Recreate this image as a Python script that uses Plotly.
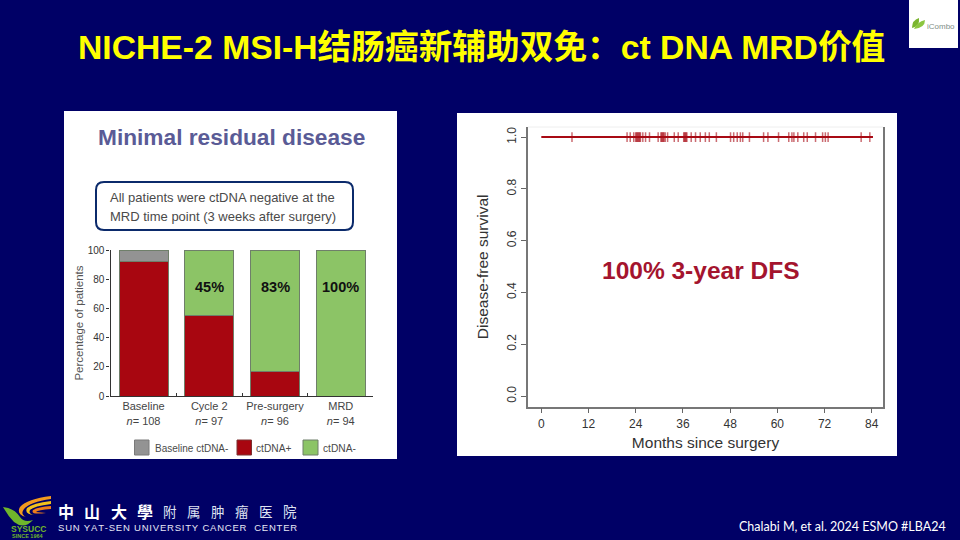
import plotly.graph_objects as go

W, H = 960, 540

# ---- data: bar chart ----
bar_categories = ["Baseline", "Cycle 2", "Pre-surgery", "MRD"]
bar_tick_labels = ["Baseline<br><i>n</i>= 108", "Cycle 2<br><i>n</i>= 97",
                   "Pre-surgery<br><i>n</i>= 96", "MRD<br><i>n</i>= 94"]
ctdna_pos = [92, 55, 17, None]
ctdna_neg = [None, 45, 83, 100]
baseline_neg = [8, None, None, None]
bar_pct_labels = ["", "45%", "83%", "100%"]
bar_y_ticks = [0, 20, 40, 60, 80, 100]

# ---- data: survival chart ----
km_months = [0, 84.3]
km_survival = [1.0, 1.0]
censor_months = [7.8, 21.8, 22.6, 23.5, 24.0, 24.2, 24.4, 24.6, 24.8, 25.0, 25.2, 25.8, 26.5, 27.5,
                 29.7, 30.4, 30.6, 30.8, 31.0, 31.2, 31.5, 32.1, 33.8, 34.8, 36.2, 36.4, 36.6, 36.8, 37.0,
                 38.1, 39.2, 40.4, 41.7, 42.7, 44.5, 48.1, 48.9, 49.8, 50.6, 51.2, 52.9,
                 56.5, 57.6, 60.3, 62.9, 63.7, 64.2, 65.2, 66.7, 67.6, 69.7, 71.5, 72.2,
                 72.9, 81.3, 83.5]
km_x_ticks = [0, 12, 24, 36, 48, 60, 72, 84]
km_y_ticks = [0.0, 0.2, 0.4, 0.6, 0.8, 1.0]

NAVY = "#000066"
SANS = "Liberation Sans, Arial, sans-serif"
CJK = "Liberation Sans, Noto Sans CJK SC, sans-serif"


def fx(p):
    return p / W


def fy(p):
    return 1 - p / H


def rect(x0, y0, x1, y1, fill, line=None, lw=0, layer="below"):
    return dict(type="rect", xref="paper", yref="paper", x0=fx(x0), x1=fx(x1),
                y0=fy(y1), y1=fy(y0), fillcolor=fill, layer=layer,
                line=dict(color=line or fill, width=lw))


def path(cmds, fill="rgba(0,0,0,0)", line=None, lw=0, layer="above"):
    parts = []
    for c in cmds:
        if len(c) == 1:
            parts.append(c[0])
        else:
            nums = []
            for i in range(1, len(c), 2):
                nums.append(f"{fx(c[i]):.5f},{fy(c[i + 1]):.5f}")
            parts.append(c[0] + " ".join(nums))
    return dict(type="path", xref="paper", yref="paper", path=" ".join(parts),
                fillcolor=fill, layer=layer, line=dict(color=line or fill, width=lw))


def text(x, y, s, size, color, family=SANS, anchor="center", angle=0):
    return dict(x=fx(x), y=fy(y), xref="paper", yref="paper", text=s, showarrow=False,
                xanchor=anchor, yanchor="middle", align="left", textangle=angle, borderpad=0, borderwidth=0,
                font=dict(size=size, color=color, family=family))


fig = go.Figure()

# bars
bar_line = dict(color="#6f7f6a", width=1)
fig.add_bar(x=bar_categories, y=ctdna_pos, name="ctDNA+", marker=dict(color="#a80610", line=bar_line),
            xaxis="x", yaxis="y", showlegend=False)
fig.add_bar(x=bar_categories, y=ctdna_neg, name="ctDNA-", marker=dict(color="#8cc466", line=bar_line),
            xaxis="x", yaxis="y", showlegend=False)
fig.add_bar(x=bar_categories, y=baseline_neg, name="Baseline ctDNA-", marker=dict(color="#939393", line=bar_line),
            xaxis="x", yaxis="y", showlegend=False)

# survival
fig.add_scatter(x=km_months, y=km_survival, mode="lines", line=dict(color="#a80a14", width=2),
                xaxis="x2", yaxis="y2", showlegend=False)
fig.add_scatter(x=censor_months, y=[1.0] * len(censor_months), mode="markers",
                marker=dict(symbol="line-ns", size=7, color="rgba(168,10,20,0.6)",
                            line=dict(color="rgba(168,10,20,0.6)", width=1.5)),
                xaxis="x2", yaxis="y2", showlegend=False)

shapes = [
    rect(64, 111, 397, 459, "white"),
    rect(457, 113, 897, 456, "white"),
    rect(909, 0, 958, 48, "white"),
    # callout box
    dict(type="path", xref="paper", yref="paper", layer="below", fillcolor="white",
         line=dict(color="#0b2a6b", width=2),
         path=" ".join([
             f"M{fx(104):.5f},{fy(182):.5f}", f"L{fx(345):.5f},{fy(182):.5f}",
             f"Q{fx(353):.5f},{fy(182):.5f} {fx(353):.5f},{fy(190):.5f}",
             f"L{fx(353):.5f},{fy(222):.5f}",
             f"Q{fx(353):.5f},{fy(230):.5f} {fx(345):.5f},{fy(230):.5f}",
             f"L{fx(104):.5f},{fy(230):.5f}",
             f"Q{fx(96):.5f},{fy(230):.5f} {fx(96):.5f},{fy(222):.5f}",
             f"L{fx(96):.5f},{fy(190):.5f}",
             f"Q{fx(96):.5f},{fy(182):.5f} {fx(104):.5f},{fy(182):.5f} Z"])),
    # legend swatches
    rect(134.5, 440, 149, 455, "#939393", "#7a7a7a", 1),
    rect(237, 440, 251.5, 455, "#a80610", "#7a3030", 1),
    rect(303, 440, 318, 455, "#8cc466", "#6f7f6a", 1),
    # faint top edge of survival frame
    dict(type="line", xref="paper", yref="paper", x0=fx(528), x1=fx(883), y0=fy(127), y1=fy(127),
         line=dict(color="#eeeeee", width=1), layer="below"),
    # iCombo leaf
    path([["M", 912, 28], ["Q", 912, 20, 919, 18], ["Q", 920, 26, 912, 28], ["Z"]], "#7ab52e"),
    path([["M", 914, 29], ["Q", 917, 22, 925, 20], ["Q", 925, 28, 914, 29], ["Z"]], "#8cc63f"),
    # SYSUCC swoosh
    path([["M", 3, 507], ["Q", 14, 508, 20, 517], ["Q", 24, 523, 33, 520],
          ["Q", 24, 530, 14, 522], ["Q", 8, 516, 3, 507], ["Z"]], "#6fb52c"),
    path([["M", 51, 496], ["L", 51, 499], ["Q", 30, 502, 24, 509], ["Q", 20, 514, 26, 517],
          ["Q", 16, 514, 20, 507], ["Q", 27, 499, 51, 496], ["Z"]], "#f39a1e"),
    path([["M", 51, 501], ["L", 51, 504], ["Q", 34, 506, 30, 510], ["Q", 28, 514, 34, 515],
          ["Q", 24, 514, 27, 508], ["Q", 33, 503, 51, 501], ["Z"]], "#f2c21b"),
    path([["M", 51, 506], ["L", 51, 509], ["Q", 38, 510, 36, 512], ["L", 46, 513],
          ["Q", 30, 515, 33, 510], ["Q", 38, 507, 51, 506], ["Z"]], "#ee7d1a"),
]

annotations = [
    text(481.5, 47, "<b>NICHE-2 MSI-H结肠癌新辅助双免：ct DNA MRD价值</b>", 33.7, "#ffff00", CJK),
    text(231.5, 137, "<b>Minimal residual disease</b>", 22.7, "#5a5b96"),
    text(110, 197, "All patients were ctDNA negative at the", 13, "#4a4a4a", anchor="left"),
    text(110, 216, "MRD time point (3 weeks after surgery)", 13, "#4a4a4a", anchor="left"),
    text(155, 448, "Baseline ctDNA-", 10, "#4a4a4a", anchor="left"),
    text(256, 448, "ctDNA+", 10.2, "#4a4a4a", anchor="left"),
    text(323, 448, "ctDNA-", 10.2, "#4a4a4a", anchor="left"),
    text(700, 270, "<b>100% 3-year DFS</b>", 24.5, "#a4142e"),
    text(739, 526, "Chalabi M, et al. 2024 ESMO #LBA24", 12.5, "#ffffff", "Lato, sans-serif", "left"),
    text(58, 527, "\u200a".join("SUN YAT-SEN UNIVERSITY CANCER  CENTER"), 9.5, "#e8e8f5", SANS, "left"),
    text(28, 529, "<b>SYSUCC</b>", 8.5, "#6fb52c", SANS),
    text(28, 536, "<b>SINCE 1964</b>", 5.5, "#6fb52c", SANS),
    text(941, 26, "iCombo", 8, "#7f8f86", SANS),
]
# the hospital name is evenly spaced, one glyph at a time
for i, ch in enumerate("中山大學"):
    annotations.append(text(66 + 26.4 * i, 511, f"<b>{ch}</b>", 16, "#ffffff", "Noto Sans CJK TC"))
for i, ch in enumerate("附属肿瘤医院"):
    annotations.append(text(170 + 24 * i, 511, ch, 13.5, "#dfe3f2", "Noto Sans CJK SC"))
for cat, label in zip(bar_categories, bar_pct_labels):
    if label:
        annotations.append(dict(x=cat, y=74.5, xref="x", yref="y", text=f"<b>{label}</b>", showarrow=False,
                                font=dict(size=14.5, color="#111111", family=SANS)))

fig.update_layout(
    width=W, height=H, margin=dict(l=0, r=0, t=0, b=0, autoexpand=False), autosize=False,
    paper_bgcolor=NAVY, plot_bgcolor="rgba(0,0,0,0)",
    barmode="stack", bargap=0.255, shapes=shapes, annotations=annotations,
    xaxis=dict(domain=[fx(110.5), fx(373)], anchor="y", type="category", categoryorder="array",
               categoryarray=bar_categories, range=[-0.502, 3.49], tickmode="array",
               tickvals=bar_categories, ticktext=bar_tick_labels, tickson="boundaries", ticks="inside",
               ticklen=3, tickcolor="#333333", showline=True, linecolor="#333333", linewidth=1.3,
               tickangle=0, showgrid=False, zeroline=False,
               tickfont=dict(size=11, color="#444444", family=SANS)),
    yaxis=dict(domain=[fy(396), fy(250)], anchor="x", range=[0, 100], tickvals=bar_y_ticks, ticks="outside",
               ticklen=3, tickcolor="#333333", showline=True, linecolor="#333333", linewidth=1.3,
               showgrid=False, zeroline=False, tickfont=dict(size=10, color="#333333", family=SANS),
               title=dict(text="Percentage of patients", standoff=1,
                          font=dict(size=11.5, color="#555555", family=SANS))),
    xaxis2=dict(domain=[fx(528), fx(883)], anchor="y2", range=[-3.38, 86.85], tickvals=km_x_ticks,
                ticks="outside", ticklen=5, tickcolor="#666666", showline=True, linecolor="#777777", linewidth=1.5,
                showgrid=False, zeroline=False, tickfont=dict(size=12, color="#333333", family=SANS),
                title=dict(text="Months since surgery", standoff=7,
                           font=dict(size=15.5, color="#333333", family=SANS))),
    yaxis2=dict(domain=[fy(406.7), fy(127)], anchor="x2", range=[-0.041, 1.039], tickvals=km_y_ticks,
                tickformat=".1f", tickangle=-90, ticks="outside", ticklen=5, tickcolor="#666666",
                showline=True, mirror=True, linecolor="#777777", linewidth=1.5, showgrid=False, zeroline=False,
                tickfont=dict(size=12, color="#333333", family=SANS),
                title=dict(text="Disease-free survival", standoff=13,
                           font=dict(size=15.5, color="#333333", family=SANS))),
)

fig.write_html("out.html", config=dict(displayModeBar=False),
               post_script="document.body.style.margin='0';document.body.style.overflow='hidden';document.body.style.background='#000066';")
